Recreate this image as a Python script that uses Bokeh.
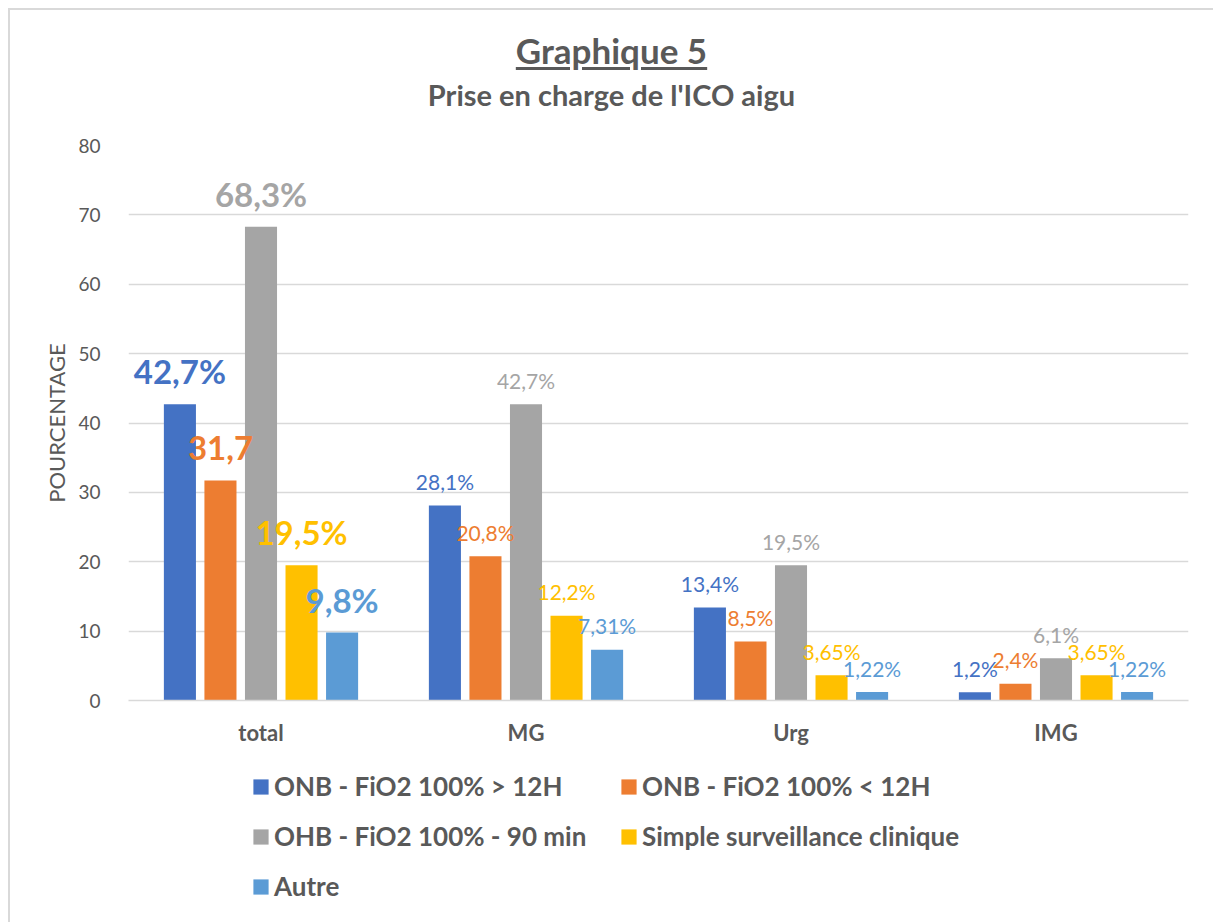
from bokeh.plotting import figure
from bokeh.models import ColumnDataSource, LabelSet, Legend, LegendItem, Div, FixedTicker, Range1d
from bokeh.transform import dodge
from bokeh.layouts import column
from bokeh.core.properties import value
from bokeh.embed import file_html
from bokeh.resources import INLINE

# ---------------- data ----------------
categories = ["total", "MG", "Urg", "IMG"]
series_names = [
    "ONB - FiO2 100% > 12H",
    "ONB - FiO2 100% < 12H",
    "OHB - FiO2 100% - 90 min",
    "Simple surveillance clinique",
    "Autre",
]
onb_gt12 = [42.7, 28.1, 13.4, 1.2]
onb_lt12 = [31.7, 20.8, 8.5, 2.4]
ohb_90 = [68.3, 42.7, 19.5, 6.1]
surveillance = [19.5, 12.2, 3.65, 3.65]
autre = [9.8, 7.31, 1.22, 1.22]

onb_gt12_labels = ["42,7%", "28,1%", "13,4%", "1,2%"]
onb_lt12_labels = ["31,7", "20,8%", "8,5%", "2,4%"]
ohb_90_labels = ["68,3%", "42,7%", "19,5%", "6,1%"]
surveillance_labels = ["19,5%", "12,2%", "3,65%", "3,65%"]
autre_labels = ["9,8%", "7,31%", "1,22%", "1,22%"]

y_ticks = [0, 10, 20, 30, 40, 50, 60, 70, 80]

# ---------------- styling ----------------
colors = ["#4472C4", "#ED7D31", "#A5A5A5", "#FFC000", "#5B9BD5"]
offsets = [-0.306, -0.153, 0.0, 0.153, 0.306]
bar_width = 0.121
FONT = "Lato"
TXT = "#595959"
GRID = "#D9D9D9"

all_values = [onb_gt12, onb_lt12, ohb_90, surveillance, autre]
all_labels = [onb_gt12_labels, onb_lt12_labels, ohb_90_labels,
              surveillance_labels, autre_labels]

title_div = Div(
    text=(
        f'<div style="width:1193px;text-align:center;color:{TXT};font-family:{FONT};font-weight:bold;">'
        '<div style="font-size:35px;line-height:38px;padding-top:16px;text-decoration:underline;'
        'text-underline-offset:3px;">Graphique 5</div>'
        '<div style="font-size:29px;line-height:32px;padding-top:10px;">Prise en charge de l\'ICO aigu</div>'
        '</div>'
    ),
    width=1193, height=108,
)

p = figure(
    x_range=categories, y_range=(0, 80),
    frame_width=1060, frame_height=555,
    min_border_left=118, min_border_right=25, min_border_top=17, min_border_bottom=50,
    output_backend="svg", toolbar_location=None,
    background_fill_color="white", border_fill_color="white",
)
p.outline_line_color = None

for i in range(5):
    src = ColumnDataSource(dict(
        cat=categories,
        val=all_values[i],
        txt=all_labels[i],
        fs=["33px" if c == "total" else "21px" for c in categories],
        fw=["bold" if c == "total" else "normal" for c in categories],
        yo=[33 if c == "total" else 24 for c in categories],
    ))
    p.vbar(x=dodge("cat", offsets[i], range=p.x_range), top="val", width=bar_width,
           bottom=0, source=src, fill_color=colors[i], line_color=None)
    labels = LabelSet(
        x=dodge("cat", offsets[i], range=p.x_range), y="val", text="txt", source=src,
        y_offset="yo", text_align="center", text_baseline="middle",
        text_font=value(FONT), text_font_size="fs", text_font_style="fw",
        text_color=colors[i],
    )
    p.add_layout(labels)

# axes
p.yaxis.ticker = FixedTicker(ticks=y_ticks)
p.yaxis.axis_line_color = None
p.yaxis.major_tick_line_color = None
p.yaxis.minor_tick_line_color = None
p.yaxis.major_label_text_font = FONT
p.yaxis.major_label_text_font_size = "19px"
p.yaxis.major_label_text_color = TXT
p.yaxis.major_label_standoff = 22
p.yaxis.axis_label = "POURCENTAGE"
p.yaxis.axis_label_text_font = FONT
p.yaxis.axis_label_text_font_size = "22px"
p.yaxis.axis_label_text_font_style = "normal"
p.yaxis.axis_label_text_color = TXT
p.yaxis.axis_label_standoff = 5

p.xaxis.axis_line_color = GRID
p.xaxis.axis_line_width = 1.5
p.xaxis.major_tick_line_color = None
p.xaxis.minor_tick_line_color = None
p.xaxis.major_label_text_font = FONT
p.xaxis.major_label_text_font_size = "22px"
p.xaxis.major_label_text_font_style = "bold"
p.xaxis.major_label_text_color = TXT
p.xaxis.major_label_standoff = 12

p.xgrid.grid_line_color = None
p.ygrid.grid_line_color = GRID
p.ygrid.grid_line_width = 1.5

# ---------------- legend (separate panel below the chart) ----------------
lg = figure(
    width=1203, height=175, x_range=Range1d(0, 1), y_range=Range1d(0, 1),
    x_axis_type=None, y_axis_type=None, min_border=0,
    output_backend="svg", toolbar_location=None,
    background_fill_color="white", border_fill_color="white",
)
lg.outline_line_color = None
lg.grid.visible = False
legend_items = []
for i in range(5):
    # off-screen proxy glyph, only used to draw the legend swatch
    r = lg.vbar(x=[-5.0], top=[-5.0], bottom=[-6.0], width=0.1,
                fill_color=colors[i], line_color=None)
    legend_items.append(LegendItem(label=series_names[i], renderers=[r]))

legend = Legend(
    items=legend_items, orientation="horizontal", ncols=2, location=(123, 23),
    label_text_font=FONT, label_text_font_style="bold", label_text_font_size="26px",
    label_text_color=TXT, glyph_width=19, glyph_height=19, label_standoff=4,
    label_width=327, spacing=18, border_line_color=None, background_fill_alpha=0,
    margin=0, padding=10,
)
lg.add_layout(legend, "center")

layout = column(title_div, p, lg, styles={"border-left": "2px solid #D9D9D9",
                                          "border-top": "2px solid #D9D9D9",
                                          "margin-left": "8px", "margin-top": "8px"})

open("out.html", "w").write(file_html(layout, INLINE))
